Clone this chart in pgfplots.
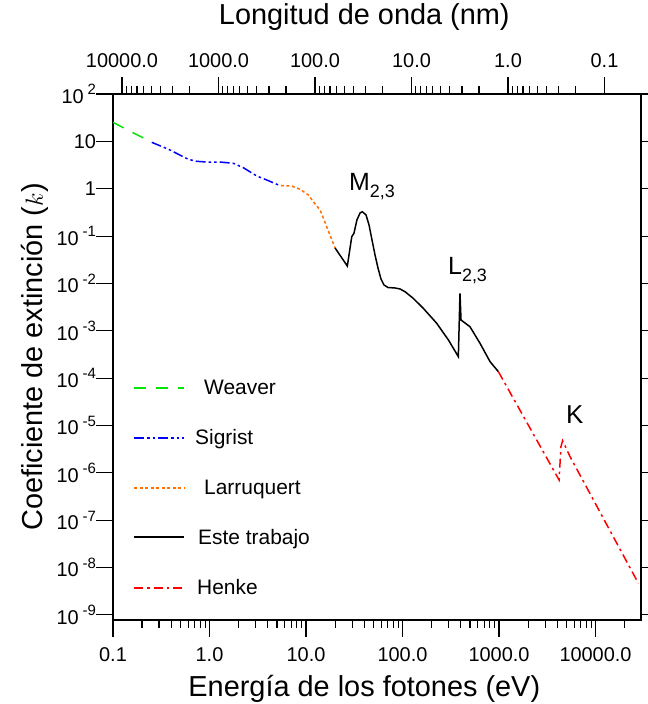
\documentclass[border=0pt]{standalone}
\usepackage{pgfplots}
\pgfplotsset{compat=1.18}
\usepackage{fontspec}
\setmainfont{Liberation Sans}
\definecolor{wgreen}{RGB}{0,230,0}
\definecolor{sblue}{RGB}{0,0,255}
\definecolor{lorange}{RGB}{255,110,0}
\definecolor{hred}{RGB}{255,0,0}
\pgfplotsset{
  wst/.style={draw=wgreen, line width=1.5bp, dash pattern=on 12bp off 10bp},
  sst/.style={draw=sblue, line width=1.5bp, dash pattern=on 10bp off 3bp on 2.5bp off 3bp on 2.5bp off 3bp},
  lst/.style={draw=lorange, line width=1.5bp, dash pattern=on 3bp off 2.5bp},
  est/.style={draw=black, line width=1.5bp, solid},
  hst/.style={draw=hred, line width=1.5bp, dash pattern=on 9bp off 4bp on 2.5bp off 4bp},
}
\newcommand{\sx}[1]{\hspace{4bp}\raisebox{0.42em}{\fontsize{15}{15}\selectfont #1}}
\newcommand{\sub}[1]{\raisebox{-0.28em}{\fontsize{18}{18}\selectfont #1}}
\begin{document}
\begin{tikzpicture}
\begin{axis}[
  scale only axis, width=528bp, height=526bp,
  xmode=log, ymode=log,
  xmin=0.1, xmax=29600, ymin=7.8e-10, ymax=100,
  axis line style={line width=1.4bp},
  tick style={line width=1.1bp, black},
  tick align=outside,
  major tick length=17bp, minor tick length=8bp,
  xtick pos=left, ytick pos=both,
  xtick={0.1,1,10,100,1000,10000},
  xticklabels={0.1,1.0,10.0,100.0,1000.0,10000.0},
  minor xtick={0.2,0.3,0.4,0.5,0.6,0.7,0.8,0.9,2,3,4,5,6,7,8,9,20,30,40,50,60,70,80,90,200,300,400,500,600,700,800,900,2000,3000,4000,5000,6000,7000,8000,9000,20000},
  ytick={1e-9,1e-8,1e-7,1e-6,1e-5,1e-4,1e-3,1e-2,1e-1,1,10,100},
  yticklabels={10\sx{-9},10\sx{-8},10\sx{-7},10\sx{-6},10\sx{-5},10\sx{-4},10\sx{-3},10\sx{-2},10\sx{-1},1\hspace{12bp},10\hspace{12bp},10\sx{2}},
  yminorticks=false,
  ticklabel style={font=\fontsize{20}{20}\selectfont},
  xticklabel style={yshift=-7bp},
  yticklabel style={xshift=3.5bp},
  xlabel={Energía de los fotones (eV)},
  ylabel={Coeficiente de extinción ($k$)},
  title={Longitud de onda (nm)},
  label style={font=\fontsize{29}{30}\selectfont},
  title style={font=\fontsize{29}{30}\selectfont, at={(axis description cs:0.476,1.1217)}, anchor=base},
  xlabel style={at={(axis description cs:0.476,-0.1445)}, anchor=base},
  ylabel style={at={(axis description cs:-0.1326,0.5)}, anchor=base},
  legend style={draw=none, fill=none, at={(axis description cs:0.0322,0.4639)}, anchor=north west,
    font=\fontsize{21}{22}\selectfont, row sep=29.5bp, column sep=8bp},
  legend cell align=left,
  legend image code/.code={\draw[#1, line width=2bp] (0bp,0bp) -- (50bp,0bp);},
]
\addplot[wst] coordinates {
(0.1,25.2) (0.13,19.1) (0.17,14.4) (0.21,11.6) (0.252,9.55)};
\addlegendentry{\hspace{9bp}Weaver}
\addplot[sst] coordinates {
(0.252,9.55) (0.390,6.57) (0.515,4.91) (0.603,4.18) (0.736,3.79) (0.935,3.66) (1.285,3.66)
(1.77,3.44) (2.24,2.78) (3.08,1.86) (3.92,1.53) (5.38,1.16)};
\addlegendentry{Sigrist}
\addplot[lst] coordinates {
(5.5,1.16) (7.11,1.14) (8.67,0.972) (10.6,0.736) (11.9,0.532) (14.0,0.356) (14.7,0.279) (16.9,0.134) (20.0,0.056)};
\addlegendentry{\hspace{9bp}Larruquert}
\addplot[est] coordinates {
(20.0,0.056) (26.8,0.0233) (29.8,0.0970) (31.4,0.1146) (33.7,0.219) (36.3,0.307) (38.3,0.327)
(41.9,0.279) (45.0,0.171) (48.3,0.0826) (51.9,0.0399) (55.7,0.0212) (59.8,0.0124) (64.3,0.00927)
(70.7,0.00820) (83.6,0.00801) (94.2,0.00764) (106,0.00670) (129,0.00485) (164,0.00299)
(226,0.00144) (299,0.00064) (379,0.000284) (394,0.00619) (404,0.00169) (500,0.00122)
(635,0.000545) (807,0.000223) (985,0.000137)};
\addlegendentry{\hspace{3bp}Este trabajo}
\addplot[hst] coordinates {
(985,0.000137) (4190,7.08e-7) (4385,3.57e-6) (4560,4.78e-6) (5445,2.2e-6) (27800,4.66e-9)};
\addlegendentry{\hspace{2bp}Henke}
\node[anchor=base west, font=\fontsize{25}{25}\selectfont, inner sep=0pt] at (axis cs:27.9,0.908) {M\sub{2,3}};
\node[anchor=base west, font=\fontsize{25}{25}\selectfont, inner sep=0pt] at (axis cs:296,0.01507) {L\sub{2,3}};
\node[anchor=base west, font=\fontsize{26}{26}\selectfont, inner sep=0pt] at (axis cs:4943,1.11e-5) {K};
\end{axis}
\begin{axis}[
  scale only axis, width=528bp, height=526bp,
  xmode=log, x dir=reverse,
  xmin=0.04186, xmax=12398.4, ymin=0, ymax=1,
  axis x line*=top, axis y line=none,
  axis line style={line width=1.4bp, -},
  tick style={line width=1.1bp, black},
  tick align=outside,
  major tick length=17bp, minor tick length=8bp,
  xtick={0.1,1,10,100,1000,10000},
  xticklabels={0.1,1.0,10.0,100.0,1000.0,10000.0},
  minor xtick={0.2,0.3,0.4,0.5,0.6,0.7,0.8,0.9,2,3,4,5,6,7,8,9,20,30,40,50,60,70,80,90,200,300,400,500,600,700,800,900,2000,3000,4000,5000,6000,7000,8000,9000},
  ticklabel style={font=\fontsize{20}{20}\selectfont},
  xticklabel style={yshift=6bp},
]
\end{axis}
\pgfresetboundingbox
\path[use as bounding box] ([xshift=-113bp,yshift=-84bp]current axis.south west) rectangle ([xshift=7bp,yshift=94bp]current axis.north east);
\end{tikzpicture}
\end{document}
